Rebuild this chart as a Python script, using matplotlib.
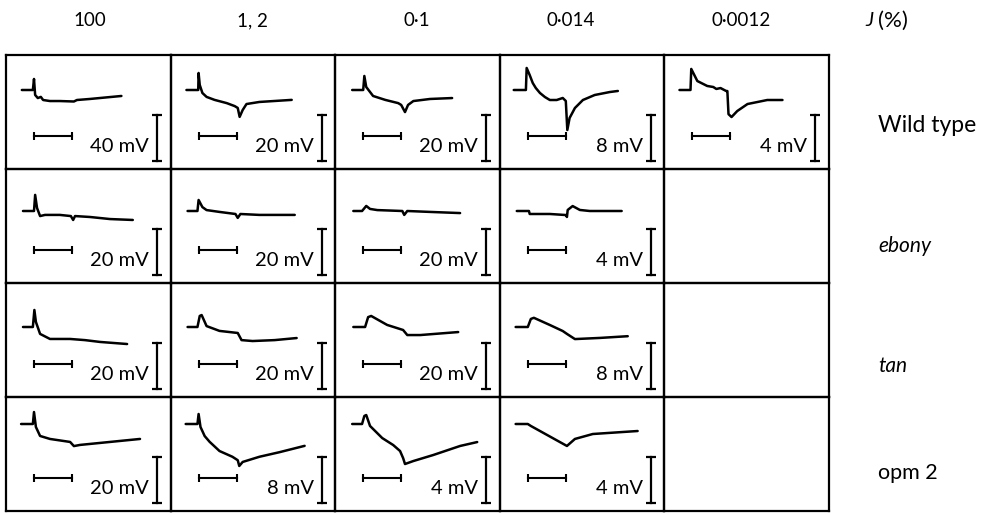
import matplotlib.pyplot as plt

plt.rcParams['font.family'] = ['Lato', 'DejaVu Sans']

# light intensity (column headers) and strains (row labels)
intensity = ["100", "1, 2", "0·1", "0·014", "0·0012"]
strains = ["Wild type", "ebony", "tan", "opm 2"]
strain_italic = [False, True, True, False]

# size of the vertical calibration bar, mV (None = no record)
scale_mv = [
    [40, 20, 20, 8, 4],
    [20, 20, 20, 4, None],
    [20, 20, 20, 8, None],
    [20, 8, 4, 4, None],
]

# traces: time in s after light on (bar = 1 s), potential in mV
wild_t = [
    [-0.32, -0.03, 0.0, 0.03, 0.1, 0.18, 0.24, 0.42, 0.68, 1.05, 1.13, 1.47, 2.3],
    [-0.32, -0.01, 0.0, 0.03, 0.1, 0.21, 0.42, 0.74, 0.95, 1.03, 1.08, 1.16, 1.26, 1.6, 2.45],
    [-0.29, 0.0, 0.03, 0.08, 0.26, 0.58, 0.92, 1.0, 1.1, 1.18, 1.32, 1.76, 2.34],
    [-0.37, -0.05, -0.03, 0.05, 0.13, 0.21, 0.32, 0.45, 0.58, 0.76, 0.92, 1.0, 1.04,
     1.1, 1.24, 1.45, 1.76, 2.16, 2.37],
    [-0.34, -0.05, -0.03, 0.13, 0.39, 0.55, 0.63, 0.74, 0.89, 0.92, 0.95, 1.03, 1.18, 1.45, 1.97, 2.37],
]
wild_v = [
    [0, 0, 9.6, -4.3, -7, -6, -8.7, -9.6, -9.6, -10, -8.7, -7.8, -5.2],
    [0, 0, 7.4, 2.2, -1.3, -3, -4.3, -5.7, -7, -7.8, -11.7, -8.7, -6.1, -5.2, -4.3],
    [0, 0, 6.1, 1.3, -2.6, -4.3, -5.7, -6.5, -9.6, -6.5, -4.8, -3.9, -3.5],
    [0, 0, 3.83, 2.6, 1.22, 0.35, -0.52, -1.22, -1.74, -1.74, -1.39, -1.91, -6.96,
     -4.87, -3.13, -1.74, -0.87, -0.35, -0.17],
    [0, 0, 1.83, 0.78, 0.35, 0.26, 0.09, 0.17, -0.09, -0.09, -2.1, -2.35, -1.83, -1.22, -0.87, -0.87],
]

ebony_t = [
    [-0.29, 0.0, 0.03, 0.08, 0.16, 0.29, 0.68, 0.97, 1.03, 1.08, 1.47, 2.0, 2.6],
    [-0.29, -0.03, 0.0, 0.1, 0.21, 0.55, 0.97, 1.03, 1.1, 1.6, 2.53],
    [-0.26, -0.03, 0.08, 0.18, 0.37, 1.03, 1.08, 1.16, 1.76, 2.55],
    [-0.29, 0.03, 0.05, 0.58, 1.0, 1.03, 1.05, 1.18, 1.37, 1.63, 2.47],
]
ebony_v = [
    [0, 0, 7.0, 1.3, -2.2, -1.7, -1.7, -2.2, -3.9, -2.2, -2.6, -3.5, -3.9],
    [0, 0, 4.8, 1.7, 0.4, -0.4, -1.3, -3.0, -1.3, -1.7, -1.7],
    [0, 0, 2.2, 0.9, 0.4, 0, -1.7, 0, -0.4, -0.9],
    [0, 0, -0.26, -0.26, -0.35, -0.52, 0.09, 0.43, 0.09, 0, 0],
]

tan_t = [
    [-0.29, -0.03, 0.01, 0.05, 0.16, 0.42, 0.95, 1.34, 1.74, 2.45],
    [-0.29, -0.03, 0.03, 0.08, 0.21, 0.55, 1.03, 1.13, 1.42, 2.0, 2.58],
    [-0.26, 0.05, 0.13, 0.21, 0.63, 1.05, 1.16, 1.5, 2.5],
    [-0.32, 0.0, 0.08, 0.16, 0.58, 0.92, 1.03, 1.24, 1.9, 2.63],
]
tan_v = [
    [0, 0, 7.4, 2.2, -3.0, -5.2, -5.2, -5.7, -6.5, -7.4],
    [0, 0, 4.8, 5.2, 0.4, -1.7, -2.6, -5.7, -6.1, -5.7, -4.8],
    [0, 0, 4.3, 4.8, 0.9, -1.3, -3.5, -3.5, -2.2],
    [0, 0, 1.4, 1.6, 0.35, -0.7, -1.2, -2.1, -1.9, -1.6],
]

opm_t = [
    [-0.34, -0.03, 0.0, 0.05, 0.16, 0.42, 0.95, 1.05, 1.21, 2.0, 2.79],
    [-0.34, -0.03, 0.0, 0.05, 0.16, 0.29, 0.55, 0.89, 1.03, 1.07, 1.16, 1.6, 2.13, 2.79],
    [-0.29, -0.03, 0.03, 0.08, 0.18, 0.5, 0.79, 0.97, 1.05, 1.1, 1.32, 1.84, 2.55, 3.0],
    [-0.32, 0.0, 0.08, 1.03, 1.24, 1.71, 2.89],
]
opm_v = [
    [0, 0, 5.2, -1.3, -5.2, -6.5, -7.8, -9.6, -9.1, -7.8, -6.5],
    [0, 0, 1.74, -0.52, -2.1, -3.1, -4.7, -5.7, -6.3, -7.3, -6.6, -5.7, -4.9, -3.8],
    [0, 0, 0.7, 0.78, -0.17, -1.22, -1.83, -2.35, -2.96, -3.48, -3.22, -2.7, -1.91, -1.57],
    [0, 0, -0.17, -1.91, -1.3, -0.87, -0.61],
]

times = [wild_t, ebony_t, tan_t, opm_t]
volts = [wild_v, ebony_v, tan_v, opm_v]

W, H = 986, 515
fig = plt.figure(figsize=(W / 100, H / 100), dpi=100)

# layout in pixels
grid_left, grid_top = 6, 55
cell_w, cell_h = 164.6, 114
px_per_s = 38        # length of time bar (1 s)
px_per_bar = 46      # length of mV bar
onset_px = 28        # light on, from left edge of a cell
baseline_px = [35, 42, 44, 27]

for r in range(4):
    for c in range(5):
        left = grid_left + c * cell_w
        top = grid_top + r * cell_h
        ax = fig.add_axes([left / W, 1 - (top + cell_h) / H, cell_w / W, cell_h / H])
        ax.patch.set_visible(False)
        ax.set_xticks([])
        ax.set_yticks([])
        for sp in ax.spines.values():
            sp.set_linewidth(1.6)
        S = scale_mv[r][c]
        if S is None:
            continue
        mv_px = S / px_per_bar
        b = baseline_px[r]
        ax.set_xlim(-onset_px / px_per_s, (cell_w - onset_px) / px_per_s)
        ax.set_ylim((b - cell_h) * mv_px, b * mv_px)

        ax.plot(times[r][c], volts[r][c], color='black', lw=1.8,
                solid_joinstyle='round', solid_capstyle='round')

        # time bar, 1 s
        yb = (b - 81) * mv_px
        ax.plot([0, 1], [yb, yb], color='black', lw=1.5, marker='|', ms=6, mew=1.5)

        # calibration bar
        xb = (151 - onset_px) / px_per_s
        y0 = (b - 106) * mv_px
        ax.plot([xb, xb], [y0, y0 + S], color='black', lw=1.6, marker='_', ms=7, mew=1.6)
        ax.text((143 - onset_px) / px_per_s, (b - 92) * mv_px, f"{S} mV",
                ha='right', va='center', fontsize=14.5)

# column headers
col_x = [90, 252, 417, 571, 741]
for x, lab in zip(col_x, intensity):
    fig.text(x / W, 1 - 21 / H, lab, ha='center', va='center', fontsize=13.5)
fig.text(869 / W, 1 - 21 / H, "J", ha='center', va='center', fontsize=14.5, style='italic')
fig.text(878 / W, 1 - 21 / H, "(%)", ha='left', va='center', fontsize=16)

# row labels
row_y = [125, 246, 366, 473]
row_size = [16.5, 15, 15, 15.5]
for y, lab, it, fs in zip(row_y, strains, strain_italic, row_size):
    fig.text(878 / W, 1 - y / H, lab, ha='left', va='center', fontsize=fs,
             style='italic' if it else 'normal')

fig.savefig("out.png", dpi=100)
